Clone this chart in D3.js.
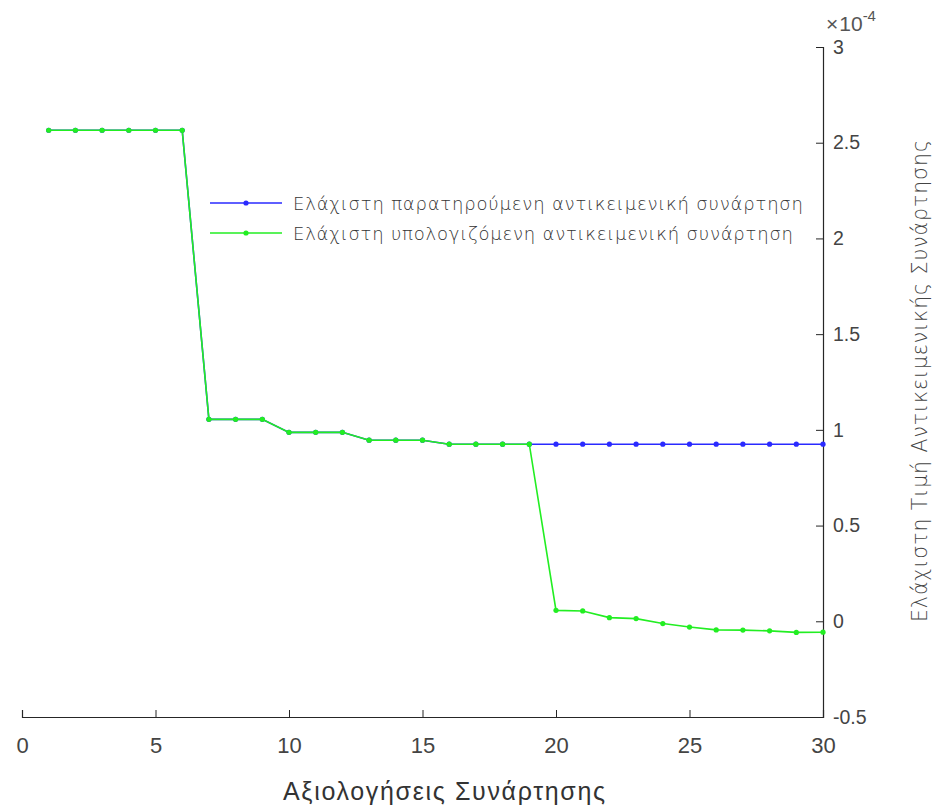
<!DOCTYPE html>
<html><head><meta charset="utf-8">
<script src="https://cdn.jsdelivr.net/npm/d3@7"></script>
<style>
body{margin:0;background:#fff;}
svg{display:block;}
</style></head>
<body><svg id="c" width="941" height="810"></svg>
<script>
const iterations = d3.range(1, 31);
const observedMin = [2.565,2.565,2.565,2.565,2.565,2.565,1.055,1.055,1.055,0.987,0.987,0.987,0.946,0.946,0.946,0.925,0.925,0.925,0.925,0.925,0.925,0.925,0.925,0.925,0.925,0.925,0.925,0.925,0.925,0.925];
const computedMin = [2.565,2.565,2.565,2.565,2.565,2.565,1.055,1.055,1.055,0.987,0.987,0.987,0.946,0.946,0.946,0.925,0.925,0.925,0.925,0.057,0.054,0.019,0.014,-0.012,-0.030,-0.045,-0.046,-0.050,-0.058,-0.057];
const seriesNames = ["Ελάχιστη παρατηρούμενη αντικειμενική συνάρτηση","Ελάχιστη υπολογιζόμενη  αντικειμενική συνάρτηση"];
const seriesColors = ["#2a2aff","#22ee22"];
const xTicks = [0,5,10,15,20,25,30];
const yTicks = [-0.5,0,0.5,1,1.5,2,2.5,3];
const xLabel = "Αξιολογήσεις Συνάρτησης";
const yLabel = "Ελάχιστη Τιμή Αντικειμενικής Συνάρτησης";

const svg = d3.select("#c");
const x = d3.scaleLinear().domain([0,30]).range([22,823]);
const y = d3.scaleLinear().domain([-0.5,3]).range([717,47]);
const textCol = "#333";
const tickFont = "Liberation Sans, Arial, sans-serif";

// X axis (bottom)
const gx = svg.append("g").attr("transform",`translate(0,${y(-0.5)})`)
  .call(d3.axisBottom(x).tickValues(xTicks).tickSize(-7).tickPadding(20).tickFormat(d3.format("d")));
gx.select(".domain").attr("stroke","#262626").attr("stroke-width",1.2);
gx.selectAll(".tick line").attr("stroke","#262626");
gx.selectAll("text").attr("fill","#444").attr("font-size",22).attr("font-family",tickFont);

// Y axis (right)
const gy = svg.append("g").attr("transform",`translate(${x(30)},0)`)
  .call(d3.axisRight(y).tickValues(yTicks).tickSize(-7).tickPadding(10).tickFormat(d=>String(d)));
gy.select(".domain").attr("stroke","#262626").attr("stroke-width",1.2);
gy.selectAll(".tick line").attr("stroke","#262626");
gy.selectAll("text").attr("fill","#444").attr("font-size",19.5).attr("font-family",tickFont);

// exponent label
const ex = svg.append("text").attr("x",826).attr("y",31).attr("fill","#555").attr("font-family",tickFont);
ex.append("tspan").attr("font-size",21).text("×");
ex.append("tspan").attr("font-size",21).attr("dx",1).text("10");
ex.append("tspan").attr("font-size",15).attr("dy",-10).text("-4");

// Axis labels
svg.append("text").attr("x",283).attr("y",800)
  .attr("textLength",322).attr("lengthAdjust","spacing")
  .attr("fill",textCol).attr("font-size",25).attr("font-family",tickFont).text(xLabel);
svg.append("text").attr("transform",`translate(927,622) rotate(-90)`)
  .attr("textLength",482).attr("lengthAdjust","spacing")
  .attr("fill","#444").attr("font-size",20.5)
  .attr("font-family","DejaVu Sans, sans-serif").attr("font-weight",300).text(yLabel);

// Lines
const line = d3.line().x((d,i)=>x(iterations[i])).y(d=>y(d));
[observedMin, computedMin].forEach((vals,k)=>{
  svg.append("path").datum(vals).attr("d",line).attr("fill","none")
    .attr("stroke",seriesColors[k]).attr("stroke-width",1.6);
  svg.append("g").selectAll("circle").data(vals).join("circle")
    .attr("cx",(d,i)=>x(iterations[i])).attr("cy",d=>y(d)).attr("r",2.6)
    .attr("fill",seriesColors[k]);
});

// Legend
const legendLens = [510, 500];
const lg = svg.append("g");
seriesNames.forEach((name,k)=>{
  const yy = 203 + k*30;
  lg.append("line").attr("x1",210).attr("x2",282).attr("y1",yy).attr("y2",yy)
    .attr("stroke",seriesColors[k]).attr("stroke-width",1.6);
  lg.append("circle").attr("cx",246).attr("cy",yy).attr("r",2.6).attr("fill",seriesColors[k]);
  lg.append("text").attr("x",293).attr("y",yy+7).attr("fill",textCol).attr("font-size",18)
    .attr("textLength",legendLens[k]).attr("lengthAdjust","spacing")
    .attr("font-family","DejaVu Sans, sans-serif").attr("font-weight",300).text(name);
});
</script>
</body></html>
